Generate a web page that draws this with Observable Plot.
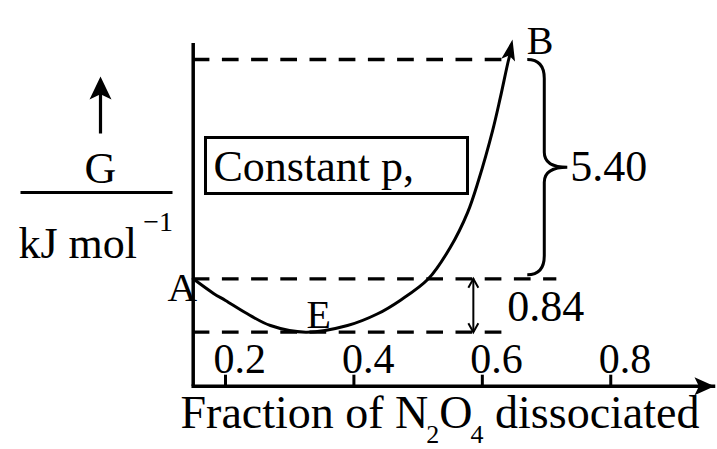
<!DOCTYPE html>
<html>
<head>
<meta charset="utf-8">
<script src="https://cdn.jsdelivr.net/npm/d3@7"></script>
<script src="https://cdn.jsdelivr.net/npm/@observablehq/plot@0.6"></script>
<style>
  html, body { margin: 0; padding: 0; background: #fff; }
  #chart svg { display: block; }
</style>
</head>
<body>
<div id="chart"></div>
<script>
// Gibbs energy of N2O4 <=> 2 NO2 at constant p, measured from the equilibrium minimum E (kJ/mol)
const fraction = [0, 0.126, 0.2, 0.234, 0.270, 0.325, 0.390, 0.437, 0.472, 0.516, 0.550, 0.577, 0.594, 0.616, 0.628, 0.641, 0.644];
const gibbs    = [0.84, 0.61, 0.50, 0.29, 0.105, 0, 0.105, 0.29, 0.50, 0.84, 1.61, 2.47, 3.26, 4.49, 5.30, 6.24, 6.40];

// end of the curve (arrow tip)
const tipFraction = 0.647;
const tipGibbs = 6.73;

// labelled states: pure N2O4 (A), equilibrium (E), end state (B)
const pointNames = ["A", "E", "B"];
const pointFraction = [0, 0.325, 0.641];
const pointGibbs = [0.84, 0, 6.24];
const guideEnd = [0.716, 0.639, 0.636];   // how far each dashed level line runs

// energy differences
const dropAE = 0.84;   // G(A) - G(E)
const riseAB = 5.40;   // G(B) - G(A)
const dropX = 0.586;   // where the 0.84 double arrow stands
const braceX = 0.670;  // where the 5.40 brace starts

const xTicks = [0.2, 0.4, 0.6, 0.8];
const xEnd = 0.96;
const xTitle = ["Fraction of N", "2", "O", "4", "dissociated"];
const xTitleSub = [false, true, false, true, false];

const curveData = fraction.map((f, i) => ({f, g: gibbs[i]}));
const points = pointNames.map((name, i) => ({name, f: pointFraction[i], g: pointGibbs[i], end: guideEnd[i]}));

// The sketch is not to scale: the stretch before the first tick and the
// A–E gap are drawn enlarged. Both axes use a broken (piecewise) scale.
const xBreak = 0.2, xSqueeze = 0.2514;
const xWarp = f => f < xBreak ? f * xSqueeze : xBreak * xSqueeze + (f - xBreak);
const yBreak = dropAE, yStretch = 1.565;
const yWarp = g => g < yBreak ? g * yStretch : yBreak * yStretch + (g - yBreak);

const serif = "'Liberation Serif', 'Times New Roman', serif";
const big = 44, sub = 26, titleSize = 46;

// filled arrow head with its tip at the origin, pointing up
const arrowHead = (L, W) => ({
  draw(ctx) {
    ctx.moveTo(0, 0);
    ctx.lineTo(W / 2, L);
    ctx.lineTo(0, L * 0.78);
    ctx.lineTo(-W / 2, L);
    ctx.closePath();
  }
});
// open chevron head, tip at the origin
const chevron = (L, W) => ({
  draw(ctx) {
    ctx.moveTo(-W / 2, L);
    ctx.lineTo(0, 0);
    ctx.lineTo(W / 2, L);
  }
});
// up arrow with a shaft, tip at the origin
const upArrow = (L, W, shaft) => ({
  draw(ctx) {
    ctx.moveTo(0, 0);
    ctx.lineTo(W / 2, L);
    ctx.lineTo(1.6, L * 0.8);
    ctx.lineTo(1.6, shaft);
    ctx.lineTo(-1.6, shaft);
    ctx.lineTo(-1.6, L * 0.8);
    ctx.lineTo(-W / 2, L);
    ctx.closePath();
  }
});
// centred rectangle
const box = (w, h) => ({
  draw(ctx) { ctx.rect(-w / 2, -h / 2, w, h); }
});

// right curly brace drawn between the two ends of a link
function braceCurve(context) {
  const pts = [];
  return {
    areaStart() {}, areaEnd() {},
    lineStart() { pts.length = 0; },
    point(x, y) { pts.push([x, y]); },
    lineEnd() {
      const x0 = pts[0][0];
      const top = Math.min(pts[0][1], pts[1][1]);
      const bot = Math.max(pts[0][1], pts[1][1]) - 4;
      const xv = x0 + 17, tip = 23, r = 19, rm = 15;
      const ym = (top + bot) / 2;
      context.moveTo(x0, top);
      context.quadraticCurveTo(xv, top, xv, top + r);
      context.lineTo(xv, ym - rm);
      context.quadraticCurveTo(xv, ym, xv + tip, ym);
      context.quadraticCurveTo(xv, ym, xv, ym + rm);
      context.lineTo(xv, bot - r);
      context.quadraticCurveTo(xv, bot, x0, bot);
    }
  };
}

// lay out the x-axis title pieces (with subscripts) left to right
const measure = document.createElement("canvas").getContext("2d");
const widthOf = (s, size) => { measure.font = `${size}px ${serif}`; return measure.measureText(s).width; };
const titleMarks = [];
{
  let x = 180 - 192.7;
  xTitle.forEach((text, i) => {
    const size = xTitleSub[i] ? sub : titleSize;
    if (i === 4) x += widthOf(" ", titleSize);
    if (i > 0 && xTitleSub[i]) x -= 2;
    titleMarks.push(Plot.text([text], {frameAnchor: "bottom-left", text: d => d, fontSize: size, textAnchor: "start", lineAnchor: "bottom",
      dx: x, dy: xTitleSub[i] ? 56.5 : 41.3}));
    x += widthOf(text, size);
  });
}

const frameH = 385.7 - 43;

const chart = Plot.plot({
  width: 717,
  height: 449,
  marginLeft: 192.7,
  marginRight: 4,
  marginTop: 43,
  marginBottom: 449 - 385.7,
  style: {fontFamily: serif, color: "black", background: "white", overflow: "visible"},
  x: {type: "linear", transform: xWarp, domain: [xWarp(0), xWarp(xEnd)], range: [192.7, 713], axis: null},
  y: {type: "linear", transform: yWarp, domain: [yWarp(0), yWarp(dropAE + riseAB)], range: [331.7, 59], axis: null},
  marks: [
    // axes
    Plot.ruleX([0], {strokeWidth: 3.5}),
    Plot.frame({anchor: "bottom", strokeWidth: 3.5}),
    Plot.dot([xEnd], {x: d => d, frameAnchor: "bottom", symbol: arrowHead(20, 18), rotate: 90, fill: "black", stroke: "none", dx: 1}),
    Plot.tickX(xTicks, {x: d => d, insetTop: frameH - 11, strokeWidth: 3}),
    Plot.text(xTicks, {x: d => d, frameAnchor: "bottom", text: d3.format(".1f"), textAnchor: "start", lineAnchor: "bottom", dx: -12, dy: -13.7, fontSize: 42}),

    // dashed levels of A, E and B
    Plot.ruleY(points, {y: "g", x1: 0, x2: "end", strokeWidth: 3.3, strokeDasharray: "16.7,12.5"}),

    // the G curve and its arrow head
    Plot.line(curveData, {x: "f", y: "g", curve: "catmull-rom", strokeWidth: 3}),
    Plot.dot([{f: tipFraction, g: tipGibbs}], {x: "f", y: "g", symbol: arrowHead(21, 14), rotate: 12, fill: "black", stroke: "none"}),

    // 0.84 drop from A to E
    Plot.ruleX([{x: dropX, y1: 0, y2: dropAE}], {x: "x", y1: "y1", y2: "y2", strokeWidth: 2}),
    Plot.dot([{x: dropX, y: dropAE, r: 0}, {x: dropX, y: 0, r: 180}], {x: "x", y: "y", rotate: "r", symbol: chevron(9, 10), fill: "none", stroke: "black", strokeWidth: 2}),
    Plot.text([{x: dropX, y: dropAE / 2}], {x: "x", y: "y", text: () => dropAE.toFixed(2), textAnchor: "start", dx: 34, dy: 1, fontSize: big}),

    // 5.40 rise from A to B
    Plot.link([{x: braceX, y1: dropAE + riseAB, y2: dropAE}], {x1: "x", x2: "x", y1: "y1", y2: "y2", curve: braceCurve, strokeWidth: 3}),
    Plot.text([{x: braceX, y: dropAE + riseAB / 2}], {x: "x", y: "y", text: () => riseAB.toFixed(2), textAnchor: "start", dx: 43, dy: -2, fontSize: big}),

    // state labels
    Plot.text(points, {filter: d => d.name === "A", x: "f", y: "g", text: "name", textAnchor: "end", lineAnchor: "bottom", dx: 4, dy: 21.7, fontSize: 41}),
    Plot.text(points, {filter: d => d.name === "E", x: "f", y: "g", text: "name", textAnchor: "middle", lineAnchor: "bottom", dx: 13, dy: -4, fontSize: 40}),
    Plot.text(points, {filter: d => d.name === "B", x: "f", y: "g", text: "name", textAnchor: "start", lineAnchor: "bottom", dx: 18, dy: -6, fontSize: 40}),

    // condition box
    Plot.dot([0], {frameAnchor: "top-left", dx: 143.3, dy: 122, symbol: box(262, 56), fill: "none", stroke: "black", strokeWidth: 3}),
    Plot.text(["Constant p,"], {frameAnchor: "top-left", text: d => d, textAnchor: "start", lineAnchor: "bottom", dx: 20.3, dy: 137, fontSize: big}),

    // y label: ↑ G / kJ mol⁻¹
    Plot.dot([0], {frameAnchor: "top-left", dx: -92.7, dy: 33, symbol: upArrow(23, 22, 57), fill: "black", stroke: "none"}),
    Plot.text(["G"], {frameAnchor: "top-left", text: d => d, textAnchor: "middle", lineAnchor: "bottom", dx: -92.7, dy: 139, fontSize: big}),
    Plot.dot([0], {frameAnchor: "top-left", dx: -96.7, dy: 149, symbol: box(152, 3.2), fill: "black", stroke: "none"}),
    Plot.text(["kJ mol"], {frameAnchor: "top-left", text: d => d, textAnchor: "start", lineAnchor: "bottom", dx: -174.7, dy: 214, fontSize: big}),
    Plot.text(["\u22121"], {frameAnchor: "top-left", text: d => d, textAnchor: "start", lineAnchor: "bottom", dx: -50, dy: 187, fontSize: 28}),

    // x title with subscripts
    ...titleMarks
  ]
});

document.getElementById("chart").append(chart);
</script>
</body>
</html>
